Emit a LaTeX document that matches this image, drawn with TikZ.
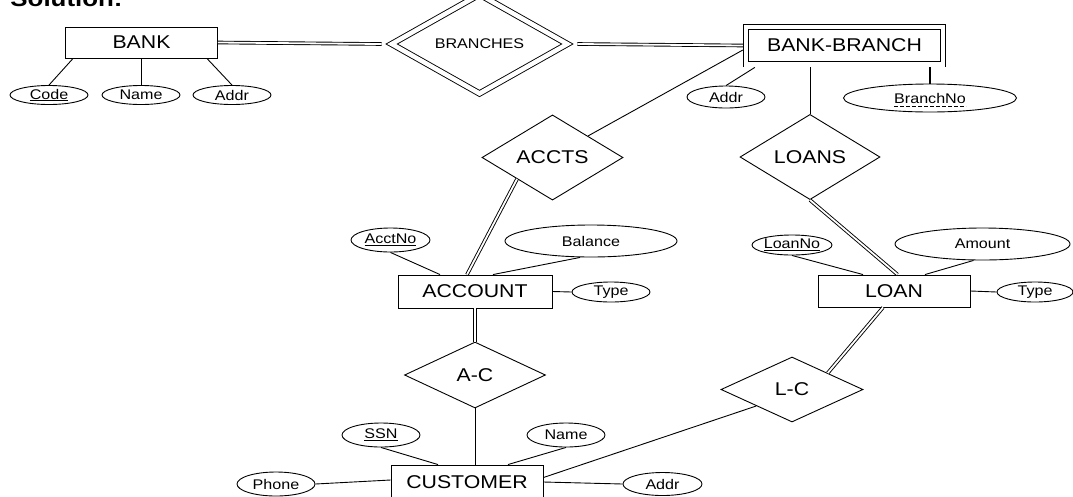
\documentclass[tikz,border=0pt]{standalone}
\usepackage{fontspec}
\setmainfont{Liberation Sans}[FakeStretch=1.15]
\usetikzlibrary{shapes.geometric}

\begin{document}
\begin{tikzpicture}[x=1pt, y=-1pt, line width=0.9pt,
	bigtext/.style={font=\fontsize{18.5}{20}\selectfont},
	smalltext/.style={font=\fontsize{14}{16}\selectfont},
	entity/.style={draw, rectangle, bigtext, minimum width=152pt, minimum height=32pt, inner sep=0pt},
	weakentity/.style={entity, double, double distance=4.5pt, outer sep=3.15pt, minimum width=197pt, minimum height=37.5pt},
	rel/.style={draw, diamond, bigtext, minimum width=141pt, minimum height=65pt, inner sep=0pt},
	attr/.style={draw, ellipse, smalltext, minimum width=78pt, minimum height=21pt, inner sep=0pt},
	total/.style={double, double distance=1.8pt}]
	\useasboundingbox (0,0) rectangle (1073,496);
	\clip (0,0) rectangle (1073,496);
	\node[font=\bfseries\fontsize{22.5}{24}\selectfont, anchor=base west, inner sep=0pt] (title) at (10,6) {Solution:};
	\node[entity, minimum height=31pt] (bank) at (141.5,42.5) {BANK};
	\node[attr, minimum height=19pt] (code) at (49,95) {\underline{Code}};
	\node[attr, minimum height=19pt] (bname) at (141,95) {Name};
	\node[attr, minimum height=19pt] (baddr) at (232,95) {Addr};
	\node[rel, smalltext, double, double distance=4.5pt, minimum width=176pt, minimum height=62.3pt] (branches) at (479.5,44) {BRANCHES};
	\node[weakentity] (bb) at (844.5,45.5) {BANK-BRANCH};
	\node[attr, minimum height=22pt] (braddr) at (726,97) {Addr};
	\node[attr, minimum width=173pt, minimum height=28pt] (brno) at (930,98) {BranchNo};
	\node[rel] (accts) at (552.5,157.5) {ACCTS};
	\node[rel, minimum width=140pt, minimum height=64pt] (loans) at (810,157) {LOANS};
	\node[entity, minimum width=154pt, minimum height=33pt] (account) at (475,291.5) {ACCOUNT};
	\node[attr, minimum width=79pt, minimum height=24pt] (acctno) at (390.5,240) {\underline{AcctNo}};
	\node[attr, minimum width=172pt, minimum height=32pt] (balance) at (591,241) {Balance};
	\node[attr, minimum height=20pt] (atype) at (611,292) {Type};
	\node[entity] (loan) at (894,291) {LOAN};
	\node[attr, minimum width=80pt, minimum height=20pt] (loanno) at (792,245) {\underline{LoanNo}};
	\node[attr, minimum width=175pt, minimum height=32pt] (amount) at (982.5,244) {Amount};
	\node[attr, minimum width=76pt, minimum height=20pt] (ltype) at (1035,292) {Type};
	\node[rel, minimum height=66pt] (ac) at (475,375) {A-C};
	\node[rel, minimum width=142pt] (lc) at (792,389.5) {L-C};
	\node[entity, minimum height=34pt] (customer) at (467,482) {CUSTOMER};
	\node[attr, minimum height=24pt] (ssn) at (381,435) {\underline{SSN}};
	\node[attr, minimum height=24pt] (cname) at (566,435) {Name};
	\node[attr, minimum height=24pt] (phone) at (276,484) {Phone};
	\node[attr, minimum width=79pt, minimum height=23pt] (caddr) at (662.5,484) {Addr};
	\draw[line width=0.7pt, dash pattern=on 4pt off 2pt] ([xshift=-36pt,yshift=-3pt]brno.base) -- ([xshift=36pt,yshift=-3pt]brno.base);
	\draw ([xshift=8pt]bank.south west) -- (code.north);
	\draw (bname.north) -- (bname.north |- bank.south);
	\draw ([xshift=-11pt]bank.south east) -- (baddr.north);
	\draw[total] (bank.east) -- ([xshift=-9.4pt]branches.west);
	\draw[total] ([xshift=9.4pt]branches.east) -- (bb.west);
	\draw ([xshift=12pt]bb.south west) -- (braddr.north);
	\draw[line width=2pt] (brno.north) -- (brno.north |- bb.south);
	\draw (accts.north east) -- ([yshift=-4.5pt]bb.west);
	\draw (loans.north) -- (loans.north |- bb.south);
	\draw[total] (accts.south west) -- ([xshift=-8pt]account.north);
	\draw (acctno.south) -- ([xshift=-35pt]account.north);
	\draw ([xshift=-11pt]balance.south) -- ([xshift=18pt]account.north);
	\draw (account.east) -- (atype.west);
	\draw[total] (loans.south) -- ([xshift=3.5pt]loan.north);
	\draw (loanno.south) -- ([xshift=-31pt]loan.north);
	\draw ([xshift=-9pt]amount.south) -- ([xshift=31pt]loan.north);
	\draw (loan.east) -- (ltype.west);
	\draw[total] (account.south) -- (ac.north);
	\draw (ac.south) -- (ac.south |- customer.north);
	\draw[total] (lc.north east) -- ([xshift=-11pt]loan.south);
	\draw (lc.south west) -- ([yshift=4.5pt]customer.east);
	\draw (ssn.south) -- ([xshift=-29pt]customer.north);
	\draw (cname.south) -- ([xshift=41pt]customer.north);
	\draw (phone.east) -- ([yshift=2pt]customer.west);
	\draw (customer.east) -- (caddr.west);
\end{tikzpicture}
\end{document}
